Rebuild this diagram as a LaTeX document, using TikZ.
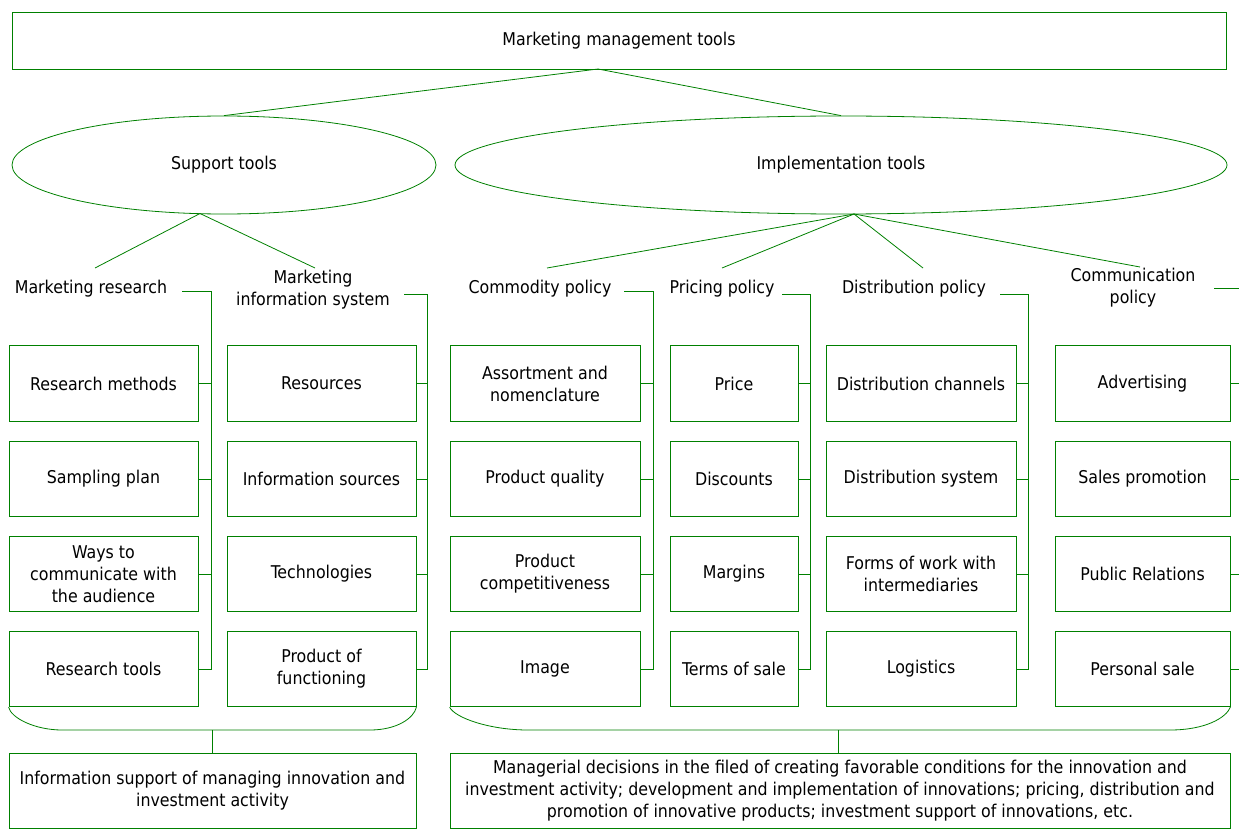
\documentclass[tikz,border=0pt]{standalone}
\usepackage{fontspec}
\setmainfont{DejaVu Sans Condensed}
\usetikzlibrary{shapes.geometric}
\definecolor{ln}{RGB}{0,128,0}
\begin{document}
\begin{tikzpicture}[x=1pt,y=-1pt,
  every node/.style={font=\fontsize{17.6}{22}\selectfont, text=black},
  box/.style={draw=ln, line width=0.8pt, inner sep=0pt, minimum height=75.5pt, align=center},
  oval/.style={draw=ln, ellipse, line width=0.8pt, inner sep=0pt, minimum height=98pt},
  conn/.style={draw=ln, line width=0.8pt},
  lbl/.style={align=center, inner sep=0pt}]
\useasboundingbox (0,0) rectangle (1239,829);

% top
\node[box, minimum width=1214pt, minimum height=57pt] (top) at (619,40.5) {Marketing management tools};
\node[oval, minimum width=424pt] (sup) at (224,165) {Support tools};
\node[oval, minimum width=772pt] (imp) at (841,165) {Implementation tools};
\coordinate (tp) at (598,69);
\draw[conn] (tp) -- (sup.north);
\draw[conn] (tp) -- (imp.north);

% category labels
\node[lbl] (mr) at (91,289) {Marketing research};
\node[lbl] (mis) at (313,290) {Marketing\\information system};
\node[lbl] (cp) at (540,289) {Commodity policy};
\node[lbl] (pp) at (722,289) {Pricing policy};
\node[lbl] (dp) at (914,289) {Distribution policy};
\node[lbl] (cmp) at (1133,288) {Communication\\policy};

% fan connectors
\coordinate (sb) at (200,213.5);
\coordinate (ib) at (854,214);
\coordinate (mrT) at (95,268);
\coordinate (misT) at (315,268);
\coordinate (cpT) at (547,268);
\coordinate (ppT) at (722,268);
\coordinate (dpT) at (923,268);
\coordinate (cmpT) at (1140,267);
\draw[conn] (sb) -- (mrT);
\draw[conn] (sb) -- (misT);
\foreach \t in {cpT,ppT,dpT,cmpT} \draw[conn] (ib) -- (\t);

% boxes
\foreach \n/\x/\w/\a/\b/\c/\d in {
  mr/103.5/189/{Research methods}/{Sampling plan}/{Ways to\\communicate with\\the audience}/{Research tools},
  mis/321.5/189/{Resources}/{Information sources}/{Technologies}/{Product of\\functioning},
  cp/545/190/{Assortment and\\nomenclature}/{Product quality}/{Product\\competitiveness}/{Image},
  pp/734/128/{Price}/{Discounts}/{Margins}/{Terms of sale},
  dp/921/190/{Distribution channels}/{Distribution system}/{Forms of work with\\intermediaries}/{Logistics},
  cmp/1142.5/175/{Advertising}/{Sales promotion}/{Public Relations}/{Personal sale}}{
  \node[box, minimum width=\w pt] (\n1) at (\x,383.5) {\a};
  \node[box, minimum width=\w pt] (\n2) at (\x,479) {\b};
  \node[box, minimum width=\w pt] (\n3) at (\x,574) {\c};
  \node[box, minimum width=\w pt] (\n4) at (\x,669) {\d};
}

% brackets
\foreach \n/\s/\bx/\by in {mr/182/211/291, mis/404/427/294, cp/624/653/291,
                           pp/782/810/294, dp/1000/1028/294, cmp/1214/1243/288}{
  \coordinate (\n S) at (\s,\by);
  \coordinate (\n B) at (\bx,\by);
  \draw[conn] (\n S) -- (\n B) -- (\n B |- \n4.east) -- (\n4.east);
  \draw[conn] (\n1.east) -- (\n1.east -| \n B);
  \draw[conn] (\n2.east) -- (\n2.east -| \n B);
  \draw[conn] (\n3.east) -- (\n3.east -| \n B);
}

% bottom braces
\draw[conn] (mr4.south west) .. controls (11,718) and (35,730) .. (62,730)
  -- (370,730) .. controls (397,730) and (414,718) .. (mis4.south east);
\draw[conn] (cp4.south west) .. controls (455,718) and (490,730) .. (528,730)
  -- (1170,730) .. controls (1205,730) and (1226,718) .. (cmp4.south east);
\coordinate (lbA) at (212,730);
\coordinate (rbA) at (838,730);

\node[box, minimum width=407pt, minimum height=75pt] (outL) at (212.5,790.5)
  {Information support of managing innovation and\\investment activity};
\node[box, minimum width=780pt, minimum height=75pt] (outR) at (840,790.5)
  {Managerial decisions in the filed of creating favorable conditions for the innovation and\\investment activity; development and implementation of innovations; pricing, distribution and\\promotion of innovative products; investment support of innovations, etc.};
\draw[conn] (lbA) -- (lbA |- outL.north);
\draw[conn] (rbA) -- (rbA |- outR.north);
\end{tikzpicture}
\end{document}
